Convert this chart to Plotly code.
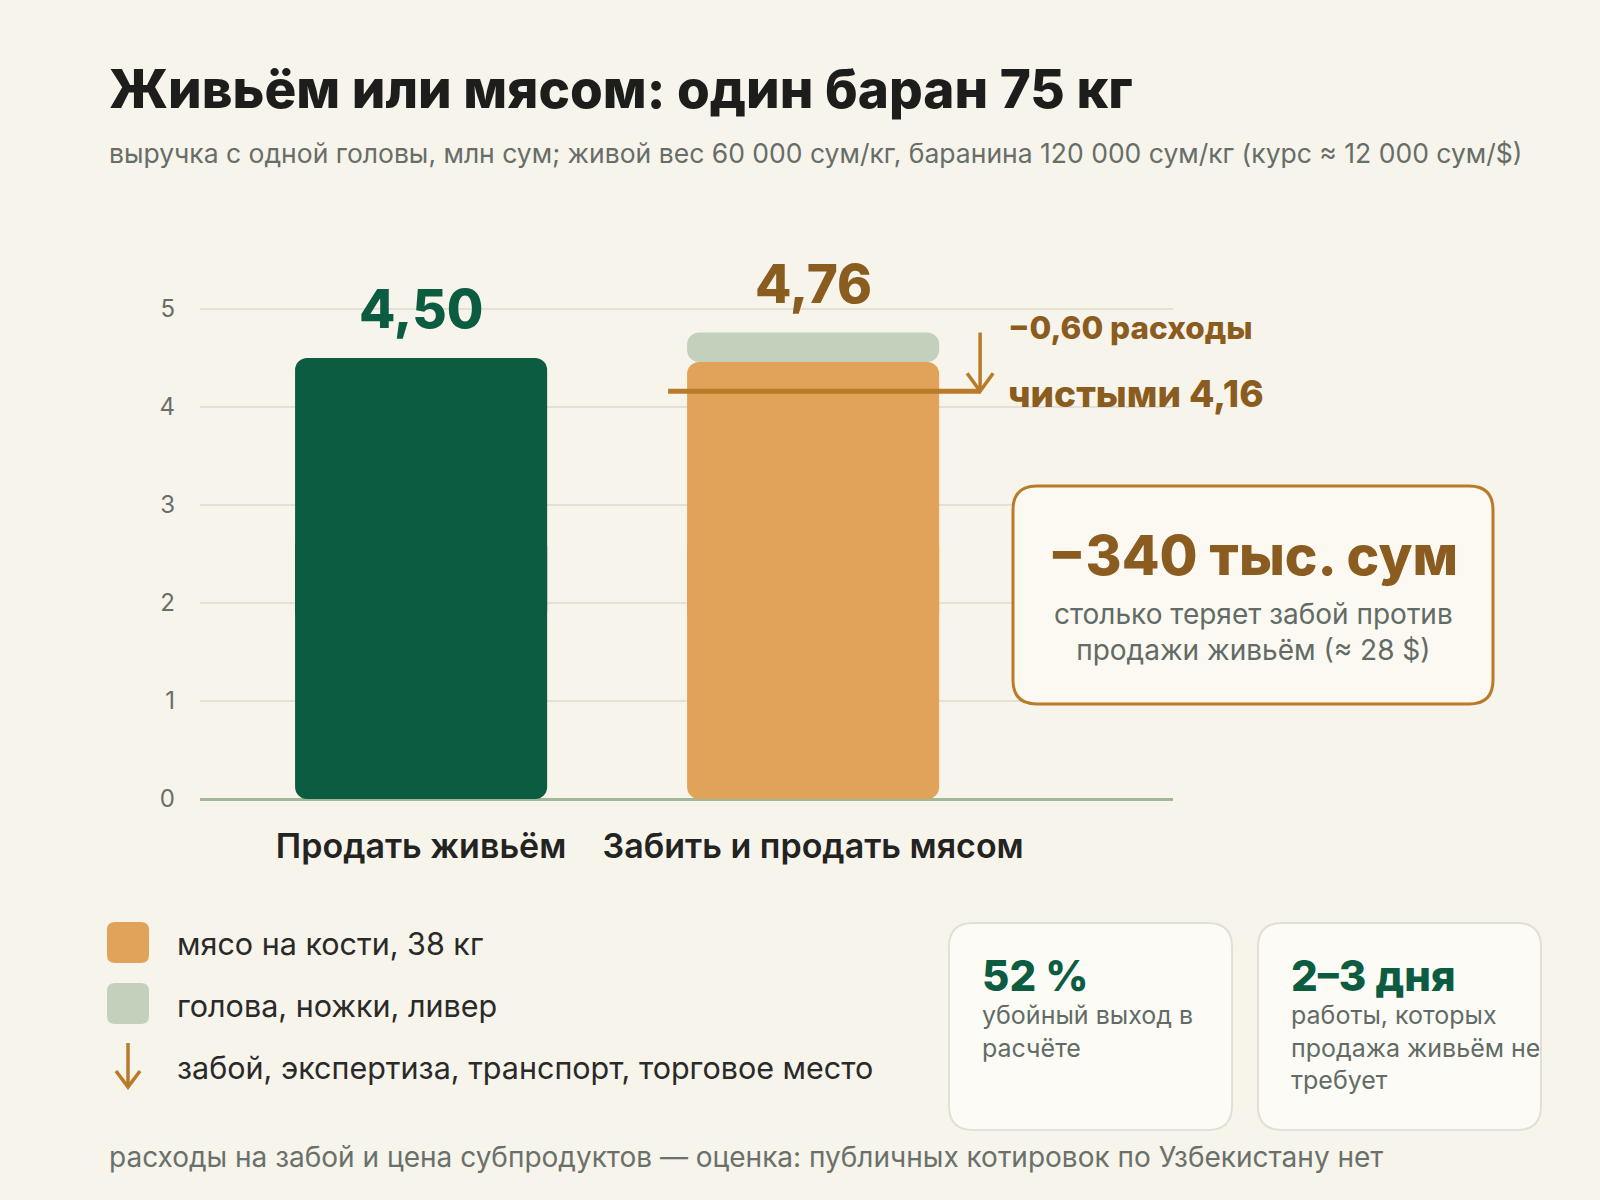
import plotly.graph_objects as go

# данные (млн сум)
categories = ["Продать живьём", "Забить и продать мясом"]
live_value = [4.50]
meat_value = [4.46]
offal_value = [0.30]
costs_value = [0.60]
y_ticks = [0, 1, 2, 3, 4, 5]

legend_labels = ["мясо на кости, 38 кг", "голова, ножки, ливер",
                 "забой, экспертиза, транспорт, торговое место"]
stat_values = ["52 %", "2–3 дня"]
stat_texts = ["убойный выход в<br>расчёте",
              "работы, которых<br>продажа живьём не<br>требует"]

total = meat_value[0] + offal_value[0]
net = total - costs_value[0]
loss_k = round((live_value[0] - net) * 1000)

def fmt(v):
    return f"{v:.2f}".replace(".", ",")

W, H = 1600, 1200
L, R, T, B = 200, 427, 260, 401
PW, PH = W - L - R, H - T - B

GREEN = "#0C5C42"
ORANGE = "#E1A35A"
SAGE = "#C3D0BC"
BROWN = "#8B5C20"
LINE_BROWN = "#B97B27"
BG = "#F7F4EC"
GREY = "#626B65"
FONT = "Inter"

def px(x):
    return (x - L) / PW

def py(y):
    return (H - B - y) / PH

def rrect(x0, y0, x1, y1, r):
    pts = [
        ("M", [(x0 + r, y0)]), ("L", [(x1 - r, y0)]), ("Q", [(x1, y0), (x1, y0 + r)]),
        ("L", [(x1, y1 - r)]), ("Q", [(x1, y1), (x1 - r, y1)]),
        ("L", [(x0 + r, y1)]), ("Q", [(x0, y1), (x0, y1 - r)]),
        ("L", [(x0, y0 + r)]), ("Q", [(x0, y0), (x0 + r, y0)]),
    ]
    s = ""
    for cmd, coords in pts:
        s += cmd + " ".join(f"{px(a):.5f},{py(b):.5f}" for a, b in coords) + " "
    return s + "Z"

fig = go.Figure()

bw = 0.643

def rounded_bar(x, value, color):
    # столбец скруглён сверху и снизу: нижняя часть рисуется вниз от середины
    # (скругляется её конец у нуля), верхняя — вверх с перекрытием
    fig.add_trace(go.Bar(x=[x], y=[-value * 0.6], base=[value * 0.6], width=bw,
                         marker=dict(color=color, line_width=0), hoverinfo="skip"))
    fig.add_trace(go.Bar(x=[x], y=[value * 0.6], base=[value * 0.4], width=bw,
                         marker=dict(color=color, line_width=0), hoverinfo="skip"))

rounded_bar(0, live_value[0], GREEN)
rounded_bar(1, meat_value[0], ORANGE)
fig.add_trace(go.Bar(x=[1], y=offal_value, base=meat_value, width=bw,
                     marker=dict(color=SAGE, line_width=0), hoverinfo="skip"))

# линия "чистыми" и стрелка расходов
ax = 1.426
fig.add_trace(go.Scatter(x=[0.63, ax], y=[net, net], mode="lines",
                         line=dict(color=LINE_BROWN, width=5), hoverinfo="skip"))
fig.add_trace(go.Scatter(x=[ax, ax], y=[total, net], mode="lines",
                         line=dict(color=LINE_BROWN, width=3.5), hoverinfo="skip"))
dx, dy = 13 / 392, 18 / 98
fig.add_trace(go.Scatter(x=[ax - dx, ax, ax + dx], y=[net + dy, net, net + dy], mode="lines",
                         line=dict(color=LINE_BROWN, width=3.5), hoverinfo="skip"))

annotations = []

# подписи значений над столбцами
annotations.append(dict(x=0, y=live_value[0], xref="x", yref="y", text=fmt(live_value[0]),
                        showarrow=False, yanchor="bottom", yshift=15,
                        font=dict(family=FONT, size=53, color=GREEN, weight=800)))
annotations.append(dict(x=1, y=total, xref="x", yref="y", text=fmt(total),
                        showarrow=False, yanchor="bottom", yshift=15,
                        font=dict(family=FONT, size=53, color=BROWN, weight=800)))

def label(x, y, text, size, color, weight=400, anchor="left"):
    annotations.append(dict(x=px(x), y=py(y), xref="paper", yref="paper", text=text,
                            showarrow=False, xanchor=anchor, yanchor="middle", align=anchor,
                            font=dict(family=FONT, size=size, color=color, weight=weight)))

label(107, 89, "Живьём или мясом: один баран 75 кг", 53, "#1D1D1B", 800)
label(107, 153, "выручка с одной головы, млн сум; живой вес 60 000 сум/кг, "
      "баранина 120 000 сум/кг (курс ≈ 12 000 сум/$)", 26.5, "#676E68")

label(1006, 327, f"−{fmt(costs_value[0])} расходы", 31.5, BROWN, 800)
label(1006, 393, f"чистыми {fmt(net)}", 37, BROWN, 800)

shapes = []

# выноска с потерей
shapes.append(dict(type="path", xref="paper", yref="paper", path=rrect(1013, 486, 1493, 704, 24),
                   line=dict(color=LINE_BROWN, width=3), fillcolor="#FBF9F2"))
label(1253, 555, f"−{loss_k} тыс. сум", 55, BROWN, 800, "center")
annotations.append(dict(x=px(1253), y=py(632), xref="paper", yref="paper",
                        text="столько теряет забой против<br>продажи живьём (≈ 28 $)",
                        showarrow=False, xanchor="center", yanchor="middle", align="center",
                        font=dict(family=FONT, size=28, color=GREY)))

# легенда
shapes.append(dict(type="path", xref="paper", yref="paper", path=rrect(107, 922, 149, 963, 8),
                   line=dict(width=0), fillcolor=ORANGE))
shapes.append(dict(type="path", xref="paper", yref="paper", path=rrect(107, 983, 149, 1024, 8),
                   line=dict(width=0), fillcolor=SAGE))
shapes.append(dict(type="line", xref="paper", yref="paper", x0=px(128), x1=px(128),
                   y0=py(1043), y1=py(1087), line=dict(color=LINE_BROWN, width=3.5)))
shapes.append(dict(type="path", xref="paper", yref="paper",
                   path=f"M{px(116):.5f},{py(1071):.5f} L{px(128):.5f},{py(1087):.5f} "
                        f"L{px(140):.5f},{py(1071):.5f}",
                   line=dict(color=LINE_BROWN, width=3.5)))
for i, t in enumerate(legend_labels):
    label(175, 943 + i * 62, t, 30.5, "#2A2A28")

# карточки
for i, x0 in enumerate([949, 1258]):
    shapes.append(dict(type="path", xref="paper", yref="paper",
                       path=rrect(x0, 923, x0 + 283, 1130, 24),
                       line=dict(color="#E2DFD4", width=2), fillcolor="#FCFBF6"))
    label(x0 + 31, 975, stat_values[i], 42, GREEN, 800)
    annotations.append(dict(x=px(x0 + 31), y=py(998), xref="paper", yref="paper",
                            text=stat_texts[i], showarrow=False, xanchor="left", yanchor="top",
                            align="left",
                            font=dict(family=FONT, size=25, color=GREY)))

label(107, 1157, "расходы на забой и цена субпродуктов — оценка: публичных котировок "
      "по Узбекистану нет", 28, "#6A716B")

fig.update_layout(
    width=W, height=H,
    margin=dict(l=L, r=R, t=T, b=B),
    paper_bgcolor=BG, plot_bgcolor=BG,
    barmode="overlay", barcornerradius=12,
    showlegend=False,
    annotations=annotations,
    shapes=shapes,
    xaxis=dict(range=[-0.564, 1.918], tickvals=[0, 1], ticktext=categories,
               showgrid=False, zeroline=False, showline=False, ticks="",
               ticklabelstandoff=24,
               tickfont=dict(family=FONT, size=34, color="#232321", weight=600)),
    yaxis=dict(range=[0, 5.5], tickvals=y_ticks, showgrid=True, gridcolor="#E4E0D6",
               gridwidth=2, zeroline=True, zerolinecolor="#A3B897", zerolinewidth=3,
               showline=False, ticks="", ticklabelstandoff=24,
               tickfont=dict(family=FONT, size=24, color="#6A6E69")),
)

# убираем отступ body, чтобы фигура начиналась с края страницы
fig.write_html("out.html", config={"displayModeBar": False},
               post_script="document.body.style.margin='0';"
                           "document.body.style.background='#F7F4EC';")
